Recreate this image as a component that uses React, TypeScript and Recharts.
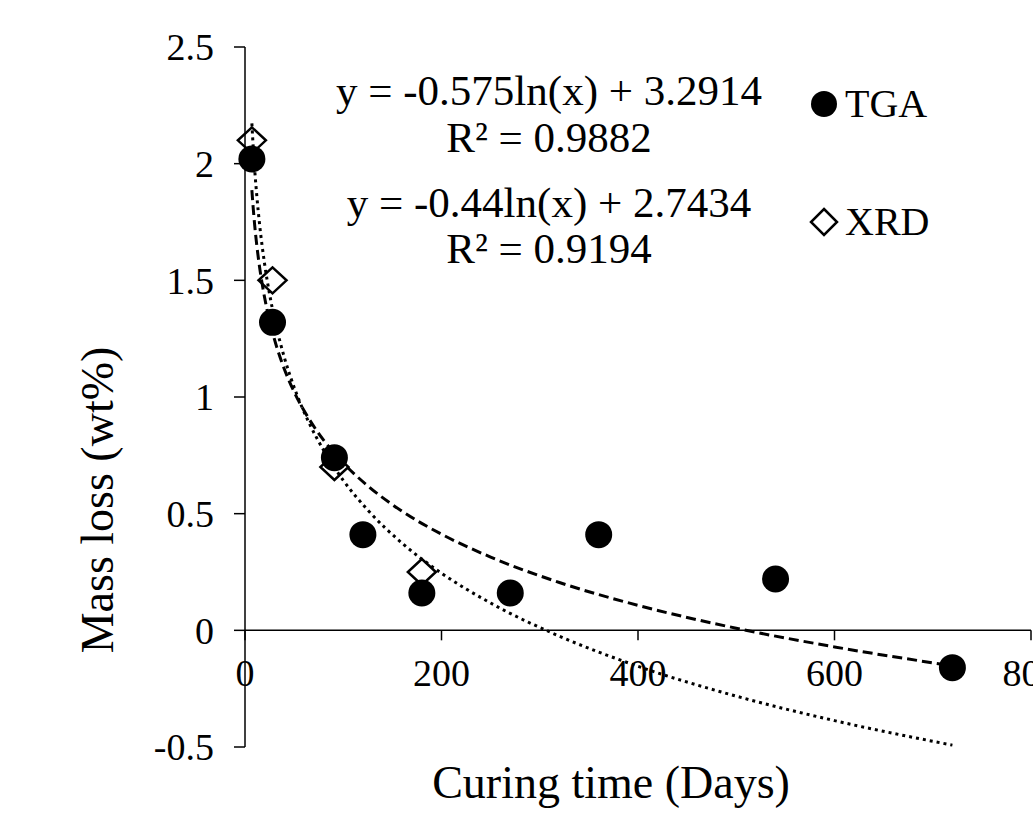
import React from "react";
import { ComposedChart, Line, Scatter, XAxis, YAxis, ReferenceLine, Legend } from "recharts";

const W = 1033;
const H = 819;
const FONT = '"Liberation Serif", "Times New Roman", serif';

// axis ticks
const X_TICKS = [0, 200, 400, 600, 800];
const Y_TICKS = [-0.5, 0, 0.5, 1, 1.5, 2, 2.5];
const Y_TICK_LABELS = ["-0.5", "0", "0.5", "1", "1.5", "2", "2.5"];

// measured points
const tgaDays = [7, 28, 91, 120, 180, 270, 360, 540, 720];
const tgaLoss = [2.02, 1.32, 0.74, 0.41, 0.16, 0.16, 0.41, 0.22, -0.16];
const xrdDays = [7, 28, 91, 180];
const xrdLoss = [2.1, 1.5, 0.7, 0.25];

// logarithmic trendlines
const fitDays = [7, 8, 10, 12, 15, 20, 25, 30, 40, 50, 65, 80, 100, 125, 160, 200, 250, 320, 400, 500, 600, 720];
const fitTga = [1.887, 1.829, 1.730, 1.650, 1.552, 1.425, 1.327, 1.247, 1.120, 1.022, 0.907, 0.815, 0.717, 0.619, 0.510, 0.412, 0.314, 0.205, 0.107, 0.009, -0.071, -0.152];
const fitXrd = [2.173, 2.096, 1.967, 1.863, 1.734, 1.569, 1.441, 1.336, 1.170, 1.042, 0.891, 0.772, 0.643, 0.515, 0.373, 0.245, 0.117, -0.025, -0.154, -0.282, -0.387, -0.492];

const equations = ["y = -0.575ln(x) + 3.2914", "R² = 0.9882", "y = -0.44ln(x) + 2.7434", "R² = 0.9194"];
const seriesNames = ["TGA", "XRD"];

const tgaData = tgaDays.map((x, i) => ({ x, y: tgaLoss[i] }));
const xrdData = xrdDays.map((x, i) => ({ x, y: xrdLoss[i] }));
const tgaFit = fitDays.map((x, i) => ({ x, y: fitTga[i] }));
const xrdFit = fitDays.map((x, i) => ({ x, y: fitXrd[i] }));

const M = { top: 47, right: 2, left: 165, bottom: 0 };
const X_AXIS_H = 72;
const PLOT_H = H - M.top - M.bottom - X_AXIS_H;
const ZERO_Y = M.top + (PLOT_H * 2.5) / 3;

function XTick({ x, payload }: any) {
  return (
    <g>
      <line x1={x} x2={x} y1={ZERO_Y} y2={ZERO_Y + 10} stroke="#000" strokeWidth={1.5} />
      <text x={x} y={ZERO_Y + 56} textAnchor="middle" fontFamily={FONT} fontSize={38} fill="#000">
        {payload.value}
      </text>
    </g>
  );
}

const Dot = (p: any) => <circle cx={p.cx} cy={p.cy} r={13.5} fill="#000" />;
const Diamond = (p: any) => (
  <polygon
    points={`${p.cx},${p.cy - 13} ${p.cx + 14},${p.cy} ${p.cx},${p.cy + 13} ${p.cx - 14},${p.cy}`}
    fill="none"
    stroke="#000"
    strokeWidth={2.5}
  />
);

function LegendBox() {
  return (
    <svg width={200} height={190}>
      <circle cx={34} cy={34} r={13} fill="#000" />
      <text x={55} y={47} fontFamily={FONT} fontSize={40} fill="#000">{seriesNames[0]}</text>
      <polygon points="34,139 47,152 34,165 21,152" fill="none" stroke="#000" strokeWidth={2.5} />
      <text x={55} y={165} fontFamily={FONT} fontSize={40} fill="#000">{seriesNames[1]}</text>
    </svg>
  );
}

const eqTops = [69, 116, 181, 227];

export default function App() {
  return (
    <div style={{ position: "absolute", left: 0, top: 0, width: W, height: H, overflow: "hidden", background: "#fff" }}>
      <ComposedChart width={W} height={H} margin={M}>
        <XAxis
          type="number"
          dataKey="x"
          domain={[0, 800]}
          ticks={X_TICKS}
          interval={0}
          height={X_AXIS_H}
          axisLine={false}
          tickLine={false}
          tick={<XTick />}
        />
        <YAxis
          type="number"
          dataKey="y"
          domain={[-0.5, 2.5]}
          ticks={Y_TICKS}
          interval={0}
          width={80}
          tickFormatter={(v: number) => Y_TICK_LABELS[Y_TICKS.indexOf(v)]}
          axisLine={{ stroke: "#000", strokeWidth: 1.5 }}
          tickLine={{ stroke: "#000", strokeWidth: 1.5 }}
          tickSize={11}
          tickMargin={20}
          tick={{ fill: "#000", fontSize: 38, fontFamily: FONT }}
        />
        <ReferenceLine y={0} stroke="#000" strokeWidth={1.5} />
        <Line data={xrdFit} dataKey="y" type="monotone" stroke="#000" strokeWidth={3} strokeDasharray="3 4" dot={false} legendType="none" isAnimationActive={false} />
        <Line data={tgaFit} dataKey="y" type="monotone" stroke="#000" strokeWidth={3} strokeDasharray="10 5" dot={false} legendType="none" isAnimationActive={false} />
        <Scatter name="XRD" data={xrdData} dataKey="y" shape={<Diamond />} isAnimationActive={false} />
        <Scatter name="TGA" data={tgaData} dataKey="y" shape={<Dot />} isAnimationActive={false} />
        <Legend
          layout="vertical"
          align="center"
          verticalAlign="middle"
          content={<LegendBox />}
          wrapperStyle={{ left: 790, top: 70, width: 200, height: 190 }}
        />
      </ComposedChart>
      {equations.map((t, i) => (
        <div
          key={t}
          style={{ position: "absolute", left: 299, top: eqTops[i], width: 500, textAlign: "center", fontFamily: FONT, fontSize: 43, lineHeight: "43px", whiteSpace: "nowrap" }}
        >
          {t}
        </div>
      ))}
      <div style={{ position: "absolute", left: 361, top: 760, width: 500, textAlign: "center", fontFamily: FONT, fontSize: 46, lineHeight: "46px", whiteSpace: "nowrap" }}>
        Curing time (Days)
      </div>
      <div
        style={{
          position: "absolute",
          left: 98 - 200,
          top: 500 - 23,
          width: 400,
          textAlign: "center",
          fontFamily: FONT,
          fontSize: 46,
          lineHeight: "46px",
          whiteSpace: "nowrap",
          transform: "rotate(-90deg)",
        }}
      >
        Mass loss (wt%)
      </div>
    </div>
  );
}
